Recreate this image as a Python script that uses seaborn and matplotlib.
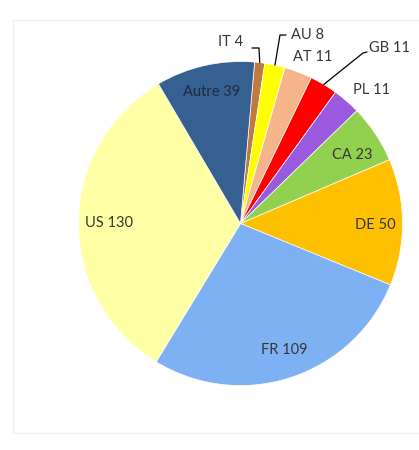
import numpy as np
import matplotlib
matplotlib.use("Agg")
import matplotlib.pyplot as plt
import seaborn as sns
from matplotlib.patches import Rectangle

# ---- data ----
countries = ["IT", "AU", "AT", "GB", "PL", "CA", "DE", "FR", "US", "Autre"]
counts = [4, 8, 11, 11, 11, 23, 50, 109, 130, 39]
colors = ["#C07A3E", "#FFFF00", "#F6B48A", "#FF0000", "#9B59E0",
          "#92D050", "#FFC000", "#7EB1F4", "#FFFFA6", "#376092"]

sns.set_theme(style="white")
plt.rcParams["font.family"] = ["Lato", "DejaVu Sans"]

W, H = 419, 450
fig = plt.figure(figsize=(W / 100, H / 100), dpi=100)
ax = fig.add_axes([0, 0, 1, 1])

cx, cy, R = 240.5, H - 223.5, 162.0
start = 90 - 5.0

wedges, _ = ax.pie(counts, colors=colors, startangle=start, counterclock=False,
                   center=(cx, cy), radius=R, frame=True,
                   wedgeprops=dict(linewidth=0.5, edgecolor="white"))
ax.set_xlim(0, W)
ax.set_ylim(0, H)
ax.set_aspect("auto")
ax.axis("off")

# faint chart border
fig.patches.append(Rectangle((13 / W, (H - 433) / H), (W - 13) / W + 0.01, (433 - 20) / H,
                             transform=fig.transFigure, fill=False,
                             edgecolor="#F0F0F0", linewidth=1.0))

# label positions in pixel layout (x, y from top)
label_pos = {
    "IT": (231, 42), "AU": (307, 35), "AT": (313, 57), "GB": (389, 48),
    "PL": (371, 90), "CA": (352, 155), "DE": (375, 225), "FR": (284, 350),
    "US": (109, 223), "Autre": (212, 92),
}
text_col = "#363636"
for w, name, val in zip(wedges, countries, counts):
    x, y = label_pos[name]
    col = "#1E2A40" if name == "Autre" else text_col
    ax.text(x, H - y, f"{name} {val}", ha="center", va="center",
            fontsize=10.5, color=col)

# leader lines for small slices
def edge_point(w):
    th = np.deg2rad((w.theta1 + w.theta2) / 2)
    return cx + R * np.cos(th), cy + R * np.sin(th)

leaders = {
    "IT": [(259, 48), (252, 48)],
    "AU": [(280, 35), (286, 35)],
    "GB": [(363, 53), (367, 52)],
}
for w, name in zip(wedges, countries):
    if name in leaders:
        ex, ey = edge_point(w)
        pts = [(ex, ey)] + [(px, H - py) for px, py in leaders[name]]
        xs, ys = zip(*pts)
        ax.plot(xs, ys, color="black", linewidth=0.9)

fig.savefig("out.png", dpi=100, facecolor="white")
